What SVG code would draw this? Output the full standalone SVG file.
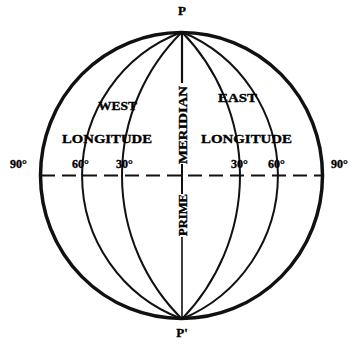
<svg xmlns="http://www.w3.org/2000/svg" width="355" height="344" viewBox="0 0 355 344">
<style>
.lbl{font-family:"Liberation Serif","Times New Roman",serif;font-weight:bold;fill:#000;stroke:#000;stroke-width:0.35;}
.mer{fill:none;stroke:#111;stroke-width:2;}
</style>
<rect width="355" height="344" fill="#fff"/>
<g id="connectors">
  <ellipse id="globe" cx="181.5" cy="175.5" rx="141" ry="143" fill="none" stroke="#111" stroke-width="3.5"/>
  <path class="mer" d="M182,32 A153,153 0 0 0 182,319"/>
  <path class="mer" d="M182,32 A201.6,201.6 0 0 0 182,319"/>
  <path class="mer" d="M182,32 A206.5,206.5 0 0 1 182,319"/>
  <path class="mer" d="M182,32 A155.3,155.3 0 0 1 182,319"/>
  <line x1="182" y1="32" x2="182" y2="83" stroke="#111" stroke-width="2.2"/>
  <line x1="182" y1="164" x2="182" y2="194" stroke="#111" stroke-width="2"/>
  <line x1="182" y1="237" x2="182" y2="319" stroke="#111" stroke-width="1.6"/>
  <line x1="41" y1="175.5" x2="322" y2="175.5" stroke="#111" stroke-width="1.8" stroke-dasharray="14 7"/>
</g>
<g id="pole-n"><text class="lbl" x="182" y="15" font-size="13" text-anchor="middle">P</text></g>
<g id="pole-s"><text class="lbl" x="182" y="337" font-size="13" text-anchor="middle">P'</text></g>
<g id="prime-meridian">
  <text class="lbl" transform="translate(186.5,236) rotate(-90)" font-size="12" textLength="42" lengthAdjust="spacingAndGlyphs">PRIME</text>
  <text class="lbl" transform="translate(186.5,164) rotate(-90)" font-size="12" textLength="78" lengthAdjust="spacingAndGlyphs">MERIDIAN</text>
</g>
<g id="west">
  <text class="lbl" x="98" y="110" font-size="12" textLength="39" lengthAdjust="spacingAndGlyphs">WEST</text>
  <text class="lbl" x="62" y="143" font-size="13" textLength="90" lengthAdjust="spacingAndGlyphs">LONGITUDE</text>
</g>
<g id="east">
  <text class="lbl" x="218" y="102" font-size="12" textLength="39" lengthAdjust="spacingAndGlyphs">EAST</text>
  <text class="lbl" x="201" y="143" font-size="13" textLength="91" lengthAdjust="spacingAndGlyphs">LONGITUDE</text>
</g>
<g id="degrees">
  <text class="lbl" x="10" y="168" font-size="12">90°</text>
  <text class="lbl" x="72" y="168" font-size="12">60°</text>
  <text class="lbl" x="116" y="168" font-size="12">30°</text>
  <text class="lbl" x="231" y="168" font-size="12">30°</text>
  <text class="lbl" x="268" y="168" font-size="12">60°</text>
  <text class="lbl" x="331" y="168" font-size="12">90°</text>
</g>
</svg>
